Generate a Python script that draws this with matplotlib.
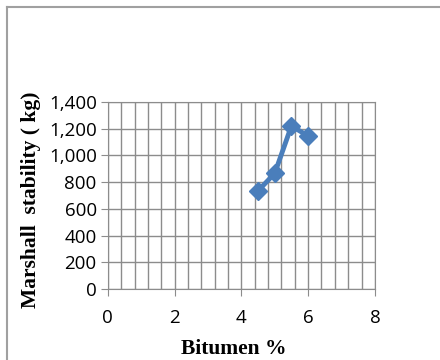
import numpy as np
import matplotlib.pyplot as plt
from matplotlib.lines import Line2D
from matplotlib.ticker import MultipleLocator, FuncFormatter

bitumen = [4.5, 5.0, 5.5, 6.0]
stability = [735, 865, 1220, 1145]

x_ticks = [0, 2, 4, 6, 8]
y_ticks = [0, 200, 400, 600, 800, 1000, 1200, 1400]

blue = '#4a7ebb'
grid_c = '#8c8c8c'

fig = plt.figure(figsize=(4.4, 3.6), dpi=100)
ax = fig.add_axes([0.245, 0.197, 0.607, 0.52])

ax.plot(bitumen, stability, color=blue, lw=3.5, marker='D', ms=9,
        markerfacecolor=blue, markeredgecolor=blue, solid_joinstyle='round')

ax.set_xlim(0, 8)
ax.set_ylim(0, 1400)
ax.set_xticks(x_ticks)
ax.set_yticks(y_ticks)
ax.xaxis.set_minor_locator(MultipleLocator(0.4))
ax.yaxis.set_major_formatter(FuncFormatter(lambda v, p: f'{int(v):,}'))

ax.grid(True, which='major', axis='y', color=grid_c, lw=1)
ax.grid(True, which='both', axis='x', color=grid_c, lw=1)
ax.set_axisbelow(True)
for s in ax.spines.values():
    s.set_color(grid_c)
ax.tick_params(axis='both', which='both', color=grid_c, length=5,
               labelsize=13.5, pad=3)
ax.tick_params(axis='x', which='minor', length=0)
ax.tick_params(axis='x', pad=9)
for lab in ax.get_xticklabels() + ax.get_yticklabels():
    lab.set_family('Open Sans')

ax.set_xlabel('Bitumen %', family='Liberation Serif', fontweight='bold',
              fontsize=15.5)
ax.set_ylabel('Marshall  stability ( kg)', family='Liberation Serif',
              fontweight='bold', fontsize=15.5)
ax.xaxis.set_label_coords(0.472, -0.265)
ax.yaxis.set_label_coords(-0.25, 0.476)

# chart frame, left and top edges only
fig.add_artist(Line2D([0.016, 0.016], [0, 0.98], color='#a0a0a0', lw=1.5,
                      transform=fig.transFigure))
fig.add_artist(Line2D([0.016, 1], [0.98, 0.98], color='#a0a0a0', lw=1.5,
                      transform=fig.transFigure))

fig.savefig('out.png', dpi=100)
